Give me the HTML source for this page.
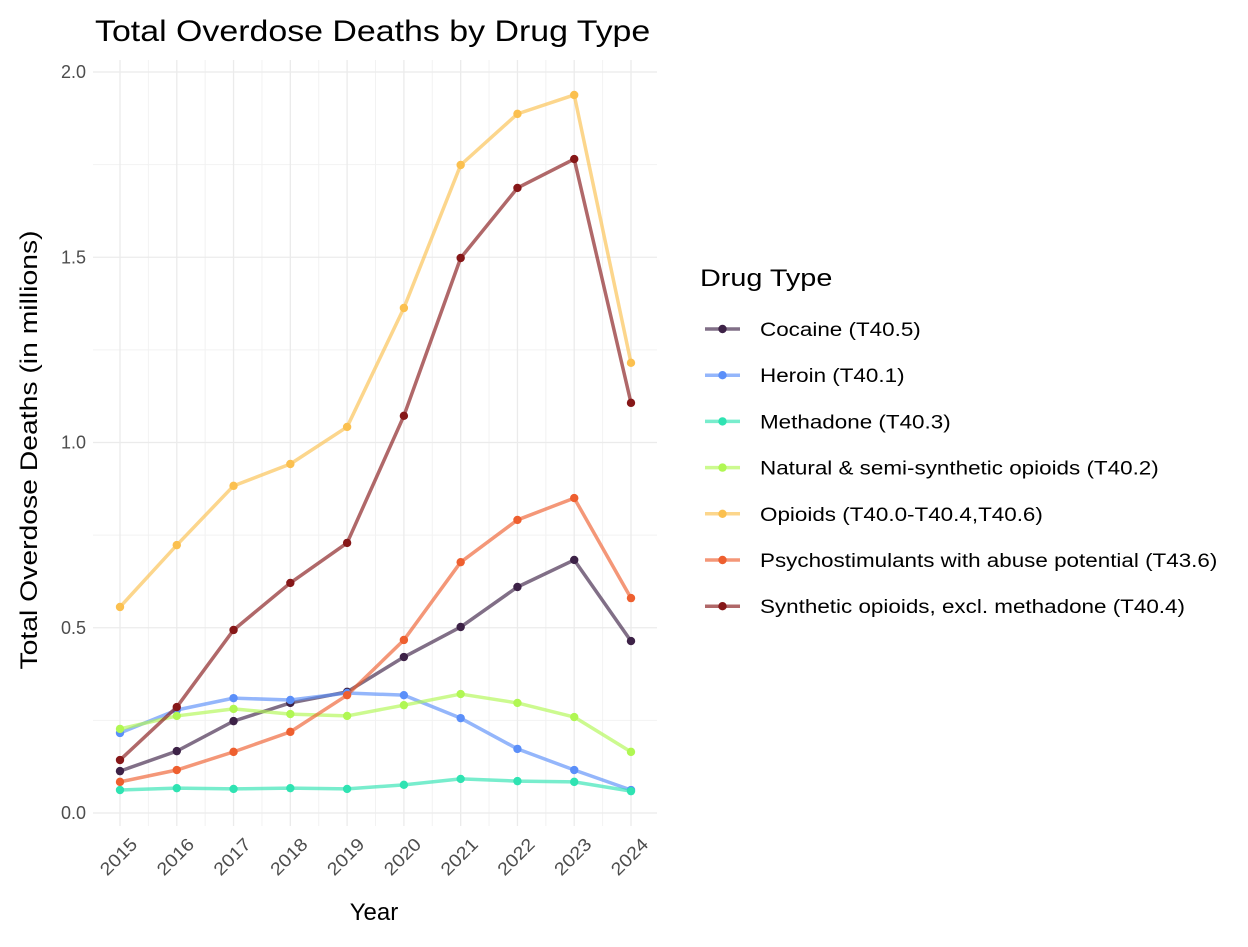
<!DOCTYPE html>
<html><head><meta charset="utf-8"><style>
body{margin:0;background:#fff;font-family:"Liberation Sans",Arial,sans-serif}
svg text{font-family:"Liberation Sans",Arial,sans-serif}
</style></head><body>
<svg id="c" width="1248" height="942" xmlns="http://www.w3.org/2000/svg"></svg>
<script>
const years=[2015,2016,2017,2018,2019,2020,2021,2022,2023,2024];
const yTicks=[0,0.5,1.0,1.5,2.0];
const yTickLabels=["0.0","0.5","1.0","1.5","2.0"];
const seriesNames=["Cocaine (T40.5)","Heroin (T40.1)","Methadone (T40.3)","Natural & semi-synthetic opioids (T40.2)","Opioids (T40.0-T40.4,T40.6)","Psychostimulants with abuse potential (T43.6)","Synthetic opioids, excl. methadone (T40.4)"];
const cocaine=[0.113,0.167,0.248,0.297,0.327,0.421,0.502,0.610,0.683,0.464];
const heroin=[0.216,0.278,0.310,0.305,0.324,0.318,0.256,0.173,0.116,0.062];
const methadone=[0.062,0.067,0.065,0.067,0.065,0.076,0.092,0.086,0.084,0.059];
const natural=[0.227,0.262,0.281,0.267,0.262,0.291,0.321,0.297,0.259,0.165];
const opioids=[0.556,0.723,0.883,0.942,1.042,1.363,1.749,1.887,1.938,1.215];
const psycho=[0.084,0.116,0.165,0.219,0.318,0.467,0.677,0.791,0.850,0.580];
const synthetic=[0.143,0.286,0.494,0.621,0.729,1.072,1.498,1.687,1.765,1.107];
const allSeries=[cocaine,heroin,methadone,natural,opioids,psycho,synthetic];
const colors=["#3d2247","#5b8ff9","#2fe3b2","#b0f753","#fbc04f","#ee5f2f","#861718"];
const slugs=["cocaine","heroin","methadone","natural-opioids","opioids","psychostimulants","synthetic-opioids"];

const svg=document.getElementById('c');const NS="http://www.w3.org/2000/svg";
function el(t,a,p){const e=document.createElementNS(NS,t);for(const k in a)e.setAttribute(k,a[k]);(p||svg).appendChild(e);return e;}
function stretch(e,r){const w=e.getComputedTextLength();e.setAttribute('textLength',w*r);e.setAttribute('lengthAdjust','spacingAndGlyphs');}
const x=v=>120+(v-2015)*(631-120)/9;
const y=v=>813-v*370.5;
const L=93,R=657,T=60,B=826;
for(let i=0;i<years.length-1;i++){const g=el('line',{x1:(x(years[i])+x(years[i+1]))/2,x2:(x(years[i])+x(years[i+1]))/2,y1:T,y2:B,stroke:"#f2f2f2","stroke-width":1});
}
for(let i=0;i<yTicks.length-1;i++){const v=(yTicks[i]+yTicks[i+1])/2;const g=el('line',{x1:L,x2:R,y1:y(v),y2:y(v),stroke:"#f2f2f2","stroke-width":1});
}
years.forEach(v=>{const g=el('line',{x1:x(v),x2:x(v),y1:T,y2:B,stroke:"#ebebeb","stroke-width":1.3});

const t=el('text',{x:0,y:0,"font-size":18,fill:"#4d4d4d","text-anchor":"end",transform:`translate(${x(v)+7},${B+8}) rotate(-45)`,dy:"0.9em"});t.textContent=v;
stretch(t,1.1);});
yTicks.forEach((v,i)=>{const g=el('line',{x1:L,x2:R,y1:y(v),y2:y(v),stroke:"#ebebeb","stroke-width":1.3});

const t=el('text',{x:86,y:y(v)+6,"font-size":18,fill:"#4d4d4d","text-anchor":"end"});t.textContent=yTickLabels[i];
});
allSeries.forEach((s,k)=>{const g=el('g',{});

const p=el('polyline',{points:s.map((v,i)=>x(years[i])+","+y(v)).join(" "),fill:"none",stroke:colors[k],"stroke-width":3.5,"stroke-opacity":0.65,"stroke-linejoin":"round"},g);

s.forEach((v,i)=>{const c=el('circle',{cx:x(years[i]),cy:y(v),r:4.2,fill:colors[k]},g);
});});
let t=el('text',{x:95,y:41,"font-size":30,fill:"#000"});t.textContent="Total Overdose Deaths by Drug Type";
stretch(t,1.13);
t=el('text',{x:374,y:920,"font-size":24,fill:"#000","text-anchor":"middle"});t.textContent="Year";

t=el('text',{x:0,y:0,"font-size":24,fill:"#000","text-anchor":"middle",transform:"translate(37,450) rotate(-90)"});t.textContent="Total Overdose Deaths (in millions)";
stretch(t,1.18);
const lg=el('g',{});
t=el('text',{x:700,y:286,"font-size":24,fill:"#000"},lg);t.textContent="Drug Type";
stretch(t,1.2);
seriesNames.forEach((n,k)=>{const yy=329+k*46.2;const g=el('g',{},lg);

el('line',{x1:705,x2:740,y1:yy,y2:yy,stroke:colors[k],"stroke-width":3.5,"stroke-opacity":0.65},g);
el('circle',{cx:722.5,cy:yy,r:4.2,fill:colors[k]},g);
const tt=el('text',{x:760,y:yy+7,"font-size":19,fill:"#000"},g);tt.textContent=n;stretch(tt,1.18);});
</script>
</body></html>
